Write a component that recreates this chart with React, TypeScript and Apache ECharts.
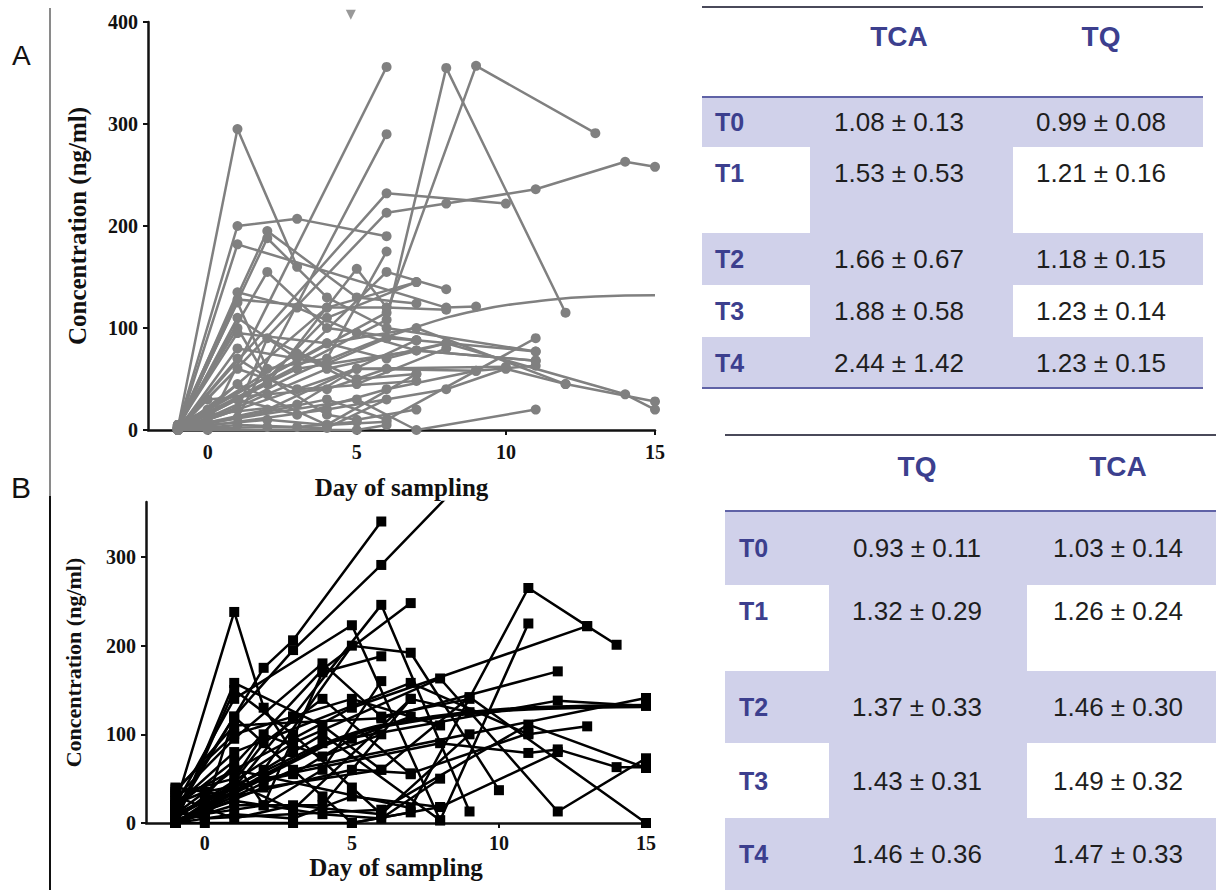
import React, { useEffect, useRef } from "react";
import * as echarts from "echarts";

type Pt = [number, number];

// ---------- Panel A: individual subjects (day, ng/ml) ----------
const a01: Pt[] = [[-1, 2], [1, 295], [3, 160]];
const a02: Pt[] = [[-1, 3], [1, 200], [3, 207], [6, 190]];
const a03: Pt[] = [[-1, 0], [1, 182], [8, 120], [9, 121]];
const a04: Pt[] = [[-1, 5], [2, 195], [5, 130], [7, 124]];
const a05: Pt[] = [[-1, 2], [2, 188], [4, 130], [6, 100], [11, 77]];
const a06: Pt[] = [[-1, 4], [2, 155], [4, 100], [7, 88]];
const a07: Pt[] = [[0, 5], [6, 356]];
const a08: Pt[] = [[-1, 3], [1, 12], [6, 290]];
const a09: Pt[] = [[-1, 2], [6, 108], [8, 355], [12, 115]];
const a10: Pt[] = [[-1, 5], [6, 115], [9, 357], [13, 291]];
const a11: Pt[] = [[-1, 0], [6, 213], [8, 222], [11, 236], [14, 263], [15, 258]];
const a12: Pt[] = [[-1, 2], [6, 232], [10, 222]];
const a14: Pt[] = [[-1, 2], [1, 135], [3, 120], [5, 95], [7, 78], [11, 68]];
const a15: Pt[] = [[-1, 0], [1, 128], [4, 120], [7, 145]];
const a16: Pt[] = [[-1, 3], [1, 125], [2, 60], [4, 70], [6, 175]];
const a17: Pt[] = [[-1, 1], [1, 110], [3, 70], [6, 155], [8, 138]];
const a18: Pt[] = [[-1, 4], [1, 95], [4, 85], [7, 100], [12, 45], [15, 28]];
const a19: Pt[] = [[-1, 2], [0, 10], [4, 60], [8, 85], [14, 35], [15, 20]];
const a20: Pt[] = [[-1, 0], [4, 30], [6, 10], [11, 90]];
const a21: Pt[] = [[-1, 1], [2, 20], [7, 88], [11, 77]];
const a22: Pt[] = [[-1, 3], [3, 60], [7, 78], [11, 68]];
const a23: Pt[] = [[-1, 0], [5, 60], [9, 58], [11, 63]];
const a24: Pt[] = [[-1, 2], [5, 30], [7, 0], [11, 20]];
const a25: Pt[] = [[-1, 0], [4, 20], [8, 40], [10, 60], [12, 45]];
const a26: Pt[] = [[-1, 5], [0, 20], [4, 120], [6, 120], [8, 118]];
const a27: Pt[] = [[-1, 0], [2, 45], [5, 158], [6, 120]];
const a28: Pt[] = [[-1, 3], [1, 60], [3, 40], [7, 48]];
const a29: Pt[] = [[-1, 0], [1, 45], [4, 5], [7, 55]];
const a30: Pt[] = [[-1, 2], [0, 5], [2, 10], [4, 5], [6, 8]];
const a31: Pt[] = [[-1, 0], [1, 5], [3, 3], [5, 8]];
const a32: Pt[] = [[-1, 1], [2, 3], [4, 2], [6, 30]];
const a33: Pt[] = [[-1, 0], [1, 80], [4, 65], [6, 90], [7, 88]];
const a34: Pt[] = [[-1, 2], [3, 75], [5, 45], [8, 80]];
const a35: Pt[] = [[-1, 0], [1, 30], [3, 15], [6, 40], [9, 58]];
const a36: Pt[] = [[-1, 3], [4, 85], [6, 70], [8, 85]];
const a37: Pt[] = [[-1, 0], [0, 0], [5, 0], [6, 5]];
const a38: Pt[] = [[-1, 5], [1, 100], [2, 50], [4, 110], [7, 145]];
const a39: Pt[] = [[-1, 1], [0, 15], [3, 25], [5, 60], [10, 62]];
const a40: Pt[] = [[-1, 0], [1, 20], [2, 90], [5, 50], [7, 55]];
const a41: Pt[] = [[-1, 2], [1, 70], [4, 15], [5, 10], [7, 20]];
const a42: Pt[] = [[-1, 0], [0, 30], [2, 35], [4, 40], [6, 60]];
const panelA: Pt[][] = [a01, a02, a03, a04, a05, a06, a07, a08, a09, a10, a11, a12, a14, a15, a16, a17, a18, a19, a20,
  a21, a22, a23, a24, a25, a26, a27, a28, a29, a30, a31, a32, a33, a34, a35, a36, a37, a38, a39, a40, a41, a42];
// fitted curve, panel A
const fitA: Pt[] = [[-1, 0], [1, 25], [3, 55], [5, 80], [7, 101], [9, 117], [11, 126], [13, 131], [15, 132]];
// value above the axis maximum, panel A
const offScaleA: Pt[] = [[4.8, 407]];

// ---------- Panel B: individual subjects (day, ng/ml) ----------
const b01: Pt[] = [[-1, 20], [1, 238], [2, 130], [3, 80]];
const b02: Pt[] = [[-1, 10], [2, 175], [3, 206], [6, 340]];
const b03: Pt[] = [[-1, 15], [1, 120], [3, 195], [6, 291], [9, 394]];
const b04: Pt[] = [[-1, 0], [1, 158], [4, 110], [6, 60]];
const b05: Pt[] = [[-1, 5], [0, 30], [4, 173], [7, 248]];
const b06: Pt[] = [[-1, 20], [1, 140], [5, 223], [8, 3]];
const b07: Pt[] = [[-1, 8], [1, 40], [3, 120], [6, 246], [9, 13]];
const b08: Pt[] = [[-1, 0], [2, 60], [5, 200], [7, 192], [10, 37]];
const b09: Pt[] = [[-1, 25], [1, 60], [7, 17], [11, 265], [13, 222], [14, 201]];
const b10: Pt[] = [[-1, 0], [4, 100], [8, 3], [11, 225]];
const b11: Pt[] = [[-1, 10], [1, 60], [5, 130], [13, 222]];
const b12: Pt[] = [[-1, 35], [1, 110], [6, 118], [12, 171]];
const b13: Pt[] = [[-1, 5], [3, 90], [8, 163], [12, 13], [15, 73]];
const b14: Pt[] = [[-1, 0], [2, 40], [6, 60], [9, 142], [15, 0]];
const b16: Pt[] = [[-1, 10], [4, 90], [12, 138], [15, 132]];
const b17: Pt[] = [[-1, 0], [3, 60], [15, 141]];
const b18: Pt[] = [[-1, 20], [1, 80], [7, 158], [11, 100], [13, 109]];
const b19: Pt[] = [[-1, 0], [2, 50], [8, 90], [11, 79], [12, 83], [14, 63], [15, 63]];
const b20: Pt[] = [[-1, 15], [0, 5], [6, 15], [11, 111], [15, 62]];
const b21: Pt[] = [[-1, 40], [1, 30], [5, 60], [7, 56], [11, 101]];
const b22: Pt[] = [[-1, 0], [0, 0], [3, 0], [5, 0], [8, 18], [12, 80]];
const b23: Pt[] = [[-1, 30], [1, 5], [3, 20], [6, 10], [9, 100]];
const b24: Pt[] = [[-1, 0], [1, 20], [4, 20], [7, 140], [9, 125]];
const b25: Pt[] = [[-1, 5], [0, 10], [2, 20], [4, 170], [6, 188]];
const b26: Pt[] = [[-1, 38], [1, 100], [3, 120], [5, 140], [8, 110]];
const b27: Pt[] = [[-1, 0], [1, 150], [3, 100], [5, 40], [6, 10]];
const b28: Pt[] = [[-1, 12], [0, 5], [2, 90], [4, 140], [7, 55]];
const b29: Pt[] = [[-1, 0], [1, 45], [3, 15], [7, 140]];
const b30: Pt[] = [[-1, 22], [0, 35], [3, 55], [5, 95], [7, 120]];
const b31: Pt[] = [[-1, 3], [1, 25], [4, 10], [6, 5], [8, 50]];
const b32: Pt[] = [[-1, 0], [0, 15], [1, 120], [4, 30], [5, 0], [7, 12]];
const b33: Pt[] = [[-1, 18], [1, 70], [2, 20], [4, 60], [6, 160]];
const b34: Pt[] = [[-1, 0], [1, 10], [3, 5], [5, 30], [8, 18]];
const b35: Pt[] = [[-1, 28], [1, 95], [4, 180], [6, 120], [9, 140]];
const b36: Pt[] = [[-1, 33], [1, 50], [2, 100], [4, 75], [6, 100]];
const panelB: Pt[][] = [b01, b02, b03, b04, b05, b06, b07, b08, b09, b10, b11, b12, b13, b14, b16, b17, b18, b19, b20,
  b21, b22, b23, b24, b25, b26, b27, b28, b29, b30, b31, b32, b33, b34, b35, b36];
// fitted curve, panel B
const fitB: Pt[] = [[-1, 0], [1, 35], [3, 70], [5, 100], [7, 115], [9, 124], [11, 129], [13, 131], [15, 132]];

// ---------- axes ----------
const dayTicks = [0, 5, 10, 15];
const concTicksA = [0, 100, 200, 300, 400];
const concTicksB = [0, 100, 200, 300];

// ---------- tables ----------
const rowLabels = ["T0", "T1", "T2", "T3", "T4"];
const tableAHeaders = ["TCA", "TQ"];
const tableATCA = ["1.08 ± 0.13", "1.53 ± 0.53", "1.66 ± 0.67", "1.88 ± 0.58", "2.44 ± 1.42"];
const tableATQ = ["0.99 ± 0.08", "1.21 ± 0.16", "1.18 ± 0.15", "1.23 ± 0.14", "1.23 ± 0.15"];
const tableBHeaders = ["TQ", "TCA"];
const tableBTQ = ["0.93 ± 0.11", "1.32 ± 0.29", "1.37 ± 0.33", "1.43 ± 0.31", "1.46 ± 0.36"];
const tableBTCA = ["1.03 ± 0.14", "1.26 ± 0.24", "1.46 ± 0.30", "1.49 ± 0.32", "1.47 ± 0.33"];

const GRAY = "#808080";
const SHADE = "#d0d1ea";
const NAVY = "#3c3f8e";
const RULE = "#5f62a6";
const SERIF = "'Liberation Serif', 'Times New Roman', serif";
const SANS = "'Liberation Sans', Arial, sans-serif";

type TableGeom = {
  x0: number; x1: number; topLine: number; headY: number; headLine: number;
  colX: number[]; labelX: number; rows: number[]; midX0: number; midX1: number; bottomLine: boolean;
};

function buildTable(g: TableGeom, headers: string[], c1: string[], c2: string[]) {
  const els: any[] = [];
  for (let i = 0; i < rowLabels.length; i++) {
    const y0 = g.rows[i];
    const y1 = g.rows[i + 1];
    if (i % 2 === 0) {
      els.push({ type: "rect", shape: { x: g.x0, y: y0, width: g.x1 - g.x0, height: y1 - y0 }, style: { fill: SHADE }, z: 1 });
    } else {
      els.push({ type: "rect", shape: { x: g.midX0, y: y0, width: g.midX1 - g.midX0, height: y1 - y0 }, style: { fill: SHADE }, z: 1 });
    }
  }
  els.push({ type: "line", shape: { x1: g.x0, y1: g.topLine, x2: g.x1, y2: g.topLine }, style: { stroke: "#4a4a5a", lineWidth: 2 }, z: 3 });
  els.push({ type: "line", shape: { x1: g.x0, y1: g.headLine, x2: g.x1, y2: g.headLine }, style: { stroke: RULE, lineWidth: 2 }, z: 3 });
  if (g.bottomLine) {
    const yb = g.rows[rowLabels.length];
    els.push({ type: "line", shape: { x1: g.x0, y1: yb, x2: g.x1, y2: yb }, style: { stroke: RULE, lineWidth: 2 }, z: 3 });
  }
  headers.forEach((h, j) => {
    els.push({ type: "text", x: g.colX[j], y: g.headY, z: 4,
      style: { text: h, fill: NAVY, font: `bold 28px ${SANS}`, align: "center", verticalAlign: "middle" } });
  });
  rowLabels.forEach((r, i) => {
    const cy = g.rows[i] + (i === 1 ? 26 : (g.rows[i + 1] - g.rows[i]) / 2);
    els.push({ type: "text", x: g.labelX, y: cy, z: 4,
      style: { text: r, fill: NAVY, font: `bold 25px ${SANS}`, align: "left", verticalAlign: "middle" } });
    els.push({ type: "text", x: g.colX[0], y: cy, z: 4,
      style: { text: c1[i], fill: "#1e1e1e", font: `26px ${SANS}`, align: "center", verticalAlign: "middle" } });
    els.push({ type: "text", x: g.colX[1], y: cy, z: 4,
      style: { text: c2[i], fill: "#1e1e1e", font: `26px ${SANS}`, align: "center", verticalAlign: "middle" } });
  });
  return els;
}

function subjectSeries(data: Pt[], gi: number, color: string, symbol: string, size: number) {
  return {
    type: "line",
    xAxisIndex: gi,
    yAxisIndex: gi,
    data,
    symbol,
    symbolSize: size,
    showAllSymbol: true,
    clip: true,
    lineStyle: { color, width: 2.5 },
    itemStyle: { color },
    emphasis: { disabled: true },
    z: 2,
  };
}

function valueAxisX(gi: number, nameGap: number, labelMargin: number) {
  return {
    type: "value",
    gridIndex: gi,
    min: -2,
    max: 15,
    name: "Day of sampling",
    nameLocation: "middle",
    nameGap,
    nameTextStyle: { fontFamily: SERIF, fontWeight: "bold", fontSize: 25, color: "#111" },
    axisLine: { show: true, onZero: false, lineStyle: { color: "#111", width: 2.5 } },
    axisTick: { show: true, length: 5, customValues: dayTicks, lineStyle: { color: "#111", width: 2 } },
    axisLabel: { customValues: dayTicks, margin: labelMargin, fontFamily: SERIF, fontWeight: "bold", fontSize: 20, color: "#111" },
    splitLine: { show: false },
  };
}

function valueAxisY(gi: number, max: number, ticks: number[], nameSize: number, nameGap: number) {
  return {
    type: "value",
    gridIndex: gi,
    min: 0,
    max,
    name: "Concentration (ng/ml)",
    nameLocation: "middle",
    nameGap,
    nameTextStyle: { fontFamily: SERIF, fontWeight: "bold", fontSize: nameSize, color: "#111" },
    axisLine: { show: true, onZero: false, lineStyle: { color: "#111", width: 2.5 } },
    axisTick: { show: true, length: 5, customValues: ticks, lineStyle: { color: "#111", width: 2 } },
    axisLabel: { customValues: ticks, margin: 10, fontFamily: SERIF, fontWeight: "bold", fontSize: 20, color: "#111" },
    splitLine: { show: false },
  };
}

export default function App() {
  const ref = useRef<HTMLDivElement>(null);
  useEffect(() => {
    if (!ref.current) return;
    const chart = echarts.init(ref.current, undefined, { renderer: "svg" });

    const seriesA = panelA.map((d) => subjectSeries(d, 0, GRAY, "circle", 10));
    const seriesB = panelB.map((d) => subjectSeries(d, 1, "#000", "rect", 10));

    const tableA = buildTable({
      x0: 702, x1: 1203, topLine: 7, headY: 36, headLine: 97,
      colX: [899, 1101], labelX: 715, rows: [97, 147, 233, 285, 337, 388],
      midX0: 810, midX1: 1013, bottomLine: true,
    }, tableAHeaders, tableATCA, tableATQ);
    const tableB = buildTable({
      x0: 725, x1: 1216, topLine: 435, headY: 466, headLine: 511,
      colX: [917, 1118], labelX: 739, rows: [511, 585, 671, 743, 818, 890],
      midX0: 829, midX1: 1027, bottomLine: false,
    }, tableBHeaders, tableBTQ, tableBTCA);

    chart.setOption({
      animation: false,
      backgroundColor: "#fff",
      grid: [
        { left: 148, top: 22, width: 507, height: 408 },
        { left: 146, top: 502, width: 500, height: 321 },
      ],
      xAxis: [valueAxisX(0, 45, 12), valueAxisX(1, 32, 10)],
      yAxis: [
        valueAxisY(0, 400, concTicksA, 25, 58),
        valueAxisY(1, 362, concTicksB, 22, 62),
      ],
      series: [
        ...seriesA,
        {
          type: "line", xAxisIndex: 0, yAxisIndex: 0, data: fitA, smooth: true, symbol: "none",
          lineStyle: { color: GRAY, width: 2.5 }, z: 2,
        },
        {
          type: "scatter", xAxisIndex: 0, yAxisIndex: 0, data: offScaleA, symbol: "triangle",
          symbolRotate: 180, symbolSize: 10, clip: false, itemStyle: { color: GRAY }, z: 2,
        },
        ...seriesB,
        {
          type: "line", xAxisIndex: 1, yAxisIndex: 1, data: fitB, smooth: true, symbol: "none",
          lineStyle: { color: "#000", width: 4.5 }, z: 3,
        },
      ],
      graphic: [
        { type: "line", shape: { x1: 50, y1: 8, x2: 50, y2: 496 }, style: { stroke: "#8a8a8a", lineWidth: 2 } },
        { type: "line", shape: { x1: 50, y1: 496, x2: 50, y2: 890 }, style: { stroke: "#111", lineWidth: 2 } },
        { type: "text", x: 12, y: 55, style: { text: "A", font: `28px ${SANS}`, fill: "#111", align: "left", verticalAlign: "middle" } },
        { type: "text", x: 11, y: 487, style: { text: "B", font: `30px ${SANS}`, fill: "#111", align: "left", verticalAlign: "middle" } },
        ...tableA,
        ...tableB,
      ],
    });
    return () => chart.dispose();
  }, []);
  return <div ref={ref} style={{ position: "absolute", left: 0, top: 0, width: 1216, height: 890 }} />;
}
